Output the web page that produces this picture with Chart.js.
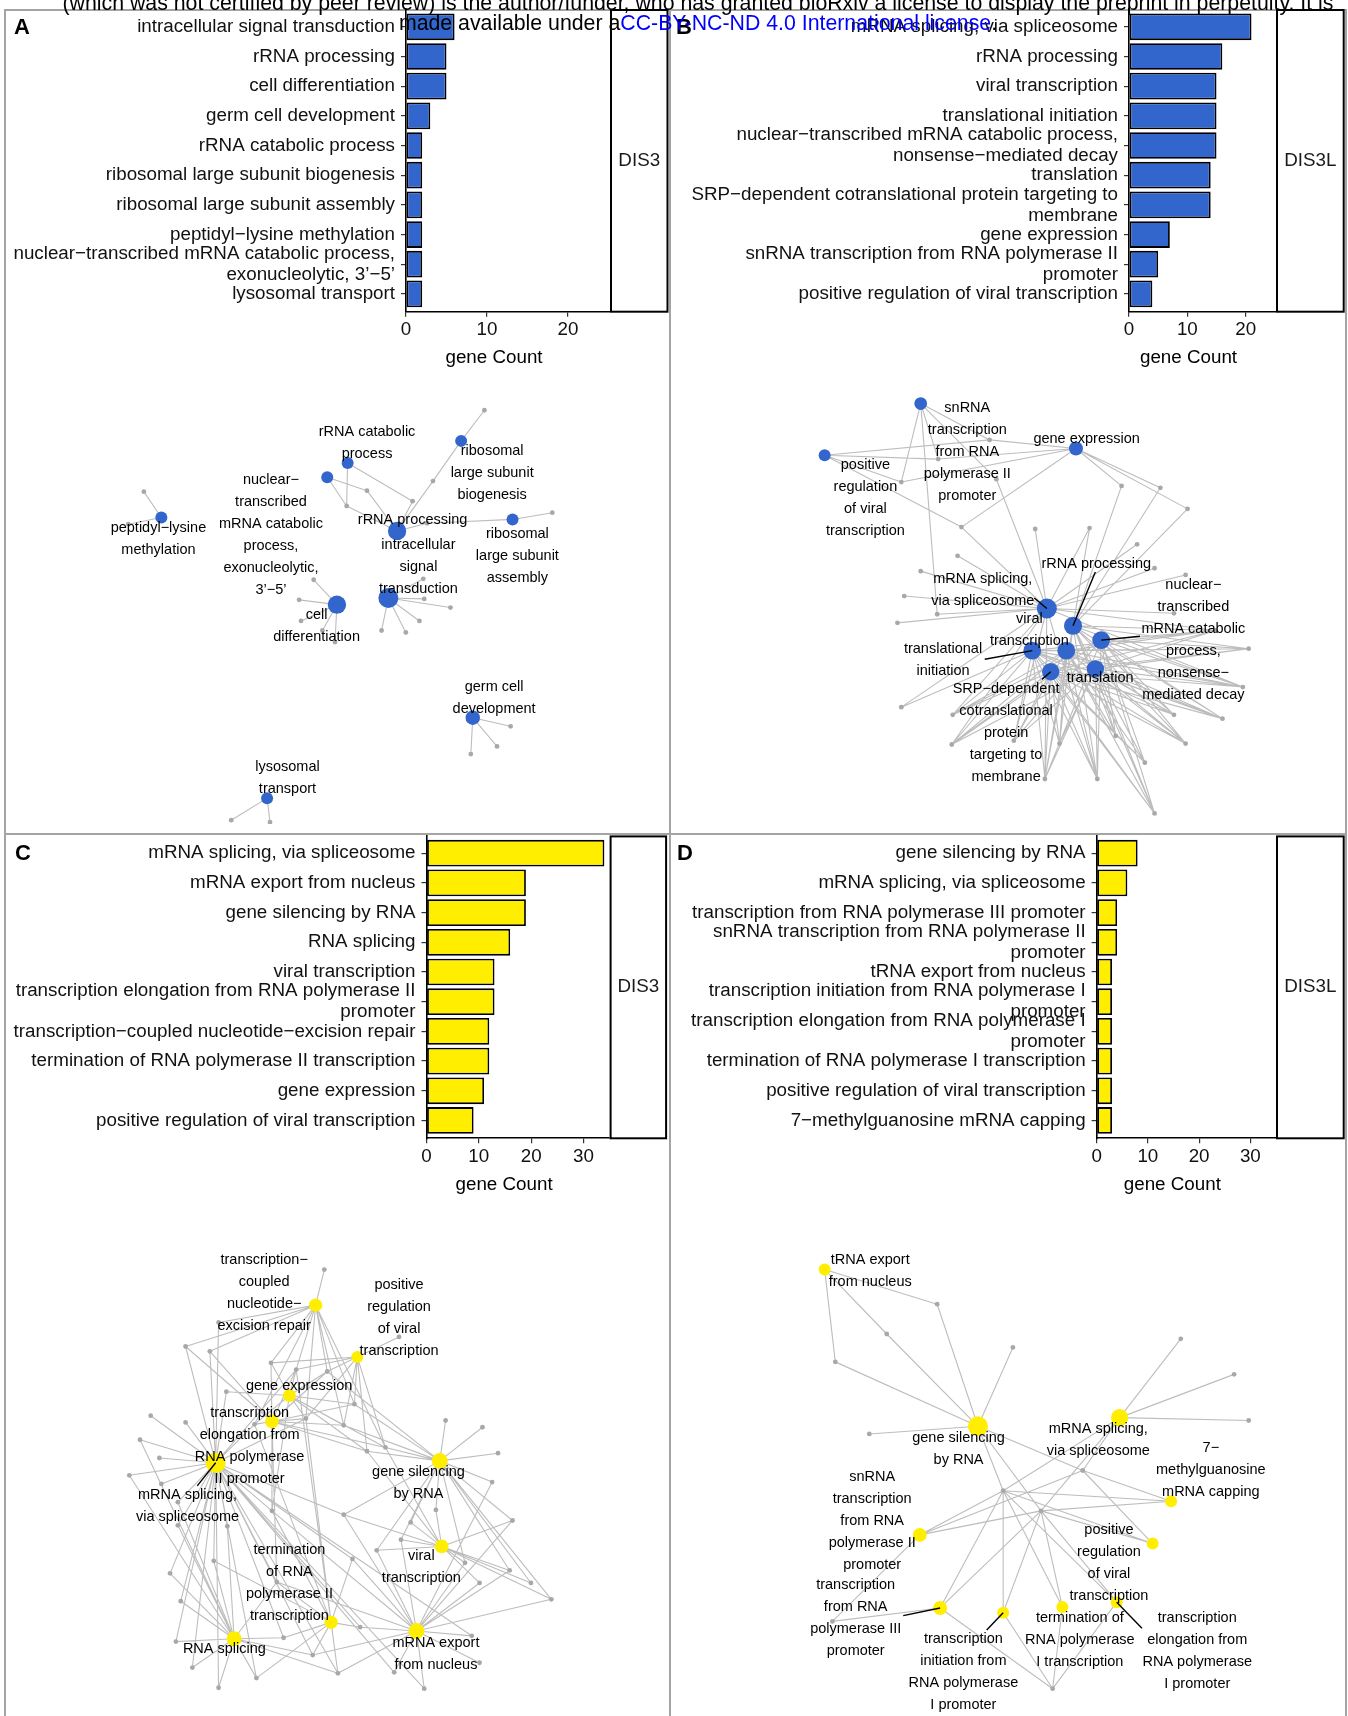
<!DOCTYPE html>
<html>
<head>
<meta charset="utf-8">
<script src="https://cdn.jsdelivr.net/npm/chart.js@4.4.1/dist/chart.umd.min.js"></script>
<style>
  html, body { margin: 0; padding: 0; background: #fff; }
  body { width: 1348px; height: 1716px; position: relative; overflow: hidden;
         font-family: "Liberation Sans", Arial, Helvetica, sans-serif; }
  canvas { position: absolute; }
  .frame { position: absolute; box-sizing: border-box; border: 2px solid #A4A4A4; }
  .tag { position: absolute; font-weight: bold; font-size: 22px; line-height: 22px; color: #000; z-index: 5; }
  .note { position: absolute; left: 48px; top: -7px; width: 1300px; text-align: center;
          font-size: 21.3px; line-height: 20px; color: #000; white-space: nowrap; z-index: 10; }
  .note span { color: #0000FF; }
</style>
</head>
<body>
<div class="frame" style="left:4px;top:9px;width:667px;height:826px;"></div>
<div class="frame" style="left:669px;top:9px;width:678px;height:826px;"></div>
<div class="frame" style="left:4px;top:833px;width:667px;height:900px;"></div>
<div class="frame" style="left:669px;top:833px;width:678px;height:900px;"></div>

<div class="tag" style="left:14px;top:16px;">A</div>
<div class="tag" style="left:676px;top:16px;">B</div>
<div class="tag" style="left:15px;top:842px;">C</div>
<div class="tag" style="left:677px;top:842px;">D</div>

<div class="note">(which was not certified by peer review) is the author/funder, who has granted bioRxiv a license to display the preprint in perpetuity. It is<br>made available under a<span>CC-BY-NC-ND 4.0 International license</span>.</div>

<script>
// ---------- GO enrichment: bar chart data ----------
const catsA = ["intracellular signal transduction", "rRNA processing", "cell differentiation",
  "germ cell development", "rRNA catabolic process", "ribosomal large subunit biogenesis",
  "ribosomal large subunit assembly", "peptidyl\u2212lysine methylation",
  ["nuclear\u2212transcribed mRNA catabolic process,", "exonucleolytic, 3\u2019\u22125\u2019"],
  "lysosomal transport"];
const countsA = [6, 5, 5, 3, 2, 2, 2, 2, 2, 2];

const catsB = ["mRNA splicing, via spliceosome", "rRNA processing", "viral transcription",
  "translational initiation",
  ["nuclear\u2212transcribed mRNA catabolic process,", "nonsense\u2212mediated decay"],
  "translation",
  ["SRP\u2212dependent cotranslational protein targeting to", "membrane"],
  "gene expression",
  ["snRNA transcription from RNA polymerase II", "promoter"],
  "positive regulation of viral transcription"];
const countsB = [21, 16, 15, 15, 15, 14, 14, 7, 5, 4];

const catsC = ["mRNA splicing, via spliceosome", "mRNA export from nucleus", "gene silencing by RNA",
  "RNA splicing", "viral transcription",
  ["transcription elongation from RNA polymerase II", "promoter"],
  "transcription\u2212coupled nucleotide\u2212excision repair",
  "termination of RNA polymerase II transcription", "gene expression",
  "positive regulation of viral transcription"];
const countsC = [34, 19, 19, 16, 13, 13, 12, 12, 11, 9];

const catsD = ["gene silencing by RNA", "mRNA splicing, via spliceosome",
  "transcription from RNA polymerase III promoter",
  ["snRNA transcription from RNA polymerase II", "promoter"],
  "tRNA export from nucleus",
  ["transcription initiation from RNA polymerase I", "promoter"],
  ["transcription elongation from RNA polymerase I", "promoter"],
  "termination of RNA polymerase I transcription",
  "positive regulation of viral transcription", "7\u2212methylguanosine mRNA capping"];
const countsD = [8, 6, 4, 4, 3, 3, 3, 3, 3, 3];

const xMaxTop = 25.2;
const xMaxBottom = 35;
const xTicksTop = [0, 10, 20];
const xTicksBottom = [0, 10, 20, 30];

// ---------- gene-concept network layouts (term order follows the bar charts) ----------
// Panel A
const termPosA = [[390,238],[399,168],[337,245],[477,363],[348,97],[465,74],[518,156],[156,154],[327,112],[265,447]];
const labelsA = [
  [["intracellular","signal","transduction"], 421, 183],
  [["rRNA processing"], 415, 157],
  [["cell","differentiation"], 316, 256],
  [["germ cell","development"], 499, 331],
  [["rRNA catabolic","process"], 368, 65],
  [["ribosomal","large subunit","biogenesis"], 497, 85],
  [["ribosomal","large subunit","assembly"], 523, 171],
  [["peptidyl\u2212lysine","methylation"], 153, 165],
  [["nuclear\u2212","transcribed","mRNA catabolic","process,","exonucleolytic,","3\u2019\u22125\u2019"], 269, 115],
  [["lysosomal","transport"], 286, 415]
];
const genePosA = [[138,127],[122,161],[368,126],[347,142],[436,116],[415,137],[430,160],[489,42],[559,149],
  [426,218],[427,239],[454,248],[422,262],[408,274],[383,272],
  [313,219],[298,240],[300,262],[335,284],[322,272],
  [516,372],[502,393],[475,401],[228,470],[268,472]];
const linksA = [[9,10,11,12,13,14],[2,3,4,5,6],[15,16,17,18,19],[20,21,22],[3,5],[7,4],[8,6],[0,1],[2,3],[23,24]];
const leadersA = [];

// Panel B
const termPosB = [[376,249],[403,267],[396,293],[361,293],[432,282],[426,312],[380,315],[406,82],[246,35],[147,89]];
const labelsB = [
  [["mRNA splicing,","via spliceosome"], 310, 218],
  [["rRNA processing"], 427, 203],
  [["viral","transcription"], 358, 260],
  [["translational","initiation"], 269, 291],
  [["nuclear\u2212","transcribed","mRNA catabolic","process,","nonsense\u2212","mediated decay"], 527, 224],
  [["translation"], 431, 322],
  [["SRP\u2212dependent","cotranslational","protein","targeting to","membrane"], 334, 333],
  [["gene expression"], 417, 72],
  [["snRNA","transcription","from RNA","polymerase II","promoter"], 294, 40],
  [["positive","regulation","of viral","transcription"], 189, 99]
];
const genePosB = [[317,73],[264,93],[226,117],[324,114],[288,164],[453,121],[493,123],[521,145],
  [364,166],[420,165],[469,182],[284,194],[246,210],[229,236],[263,255],[222,264],
  [487,207],[519,214],[507,254],[550,272],[584,291],[578,331],[557,364],[507,360],
  [519,390],[477,410],[428,427],[374,427],[487,463],[278,391],[279,360],[226,352],
  [447,382],[389,390],[342,387]];
const linksB = [
  [3,4,8,9,10,11,12,13,14,15,16,17,18,19,29,30,31,34,26,21,27],
  [5,6,7,9,19,20,21,22,23,24,25,26,27,28,32,33],
  [19,20,21,22,23,24,25,26,27,28,29,30,32,33,34],
  [19,20,21,22,23,24,25,26,27,28,29,30,31,33,34],
  [19,20,21,22,23,24,25,26,27,28,29,30,32,33,34],
  [19,20,21,22,23,24,25,26,27,28,29,32,33,34],
  [19,20,21,22,23,24,25,26,27,28,29,30,33,34],
  [0,1,2,4,5,6,7],
  [0,1,2,3,14],
  [0,1,2,4]
];
const leadersB = [[0,363,238],[1,426,211],[4,472,278],[3,312,302],[6,371,323]];

// Panel C
const termPosC = [[212,263],[419,438],[443,261],[231,446],[445,350],[270,220],[315,99],[331,429],[288,193],[358,153]];
const labelsC = [
  [["mRNA splicing,","via spliceosome"], 183, 297],
  [["mRNA export","from nucleus"], 439, 450],
  [["gene silencing","by RNA"], 421, 273],
  [["RNA splicing"], 221, 457],
  [["viral","transcription"], 424, 360],
  [["transcription","elongation from","RNA polymerase","II promoter"], 247, 211],
  [["transcription\u2212","coupled","nucleotide\u2212","excision repair"], 262, 52],
  [["termination","of RNA","polymerase II","transcription"], 288, 354],
  [["gene expression"], 298, 183],
  [["positive","regulation","of viral","transcription"], 401, 78]
];
const genePosC = [[324,62],[215,117],[181,142],[206,147],[401,132],[269,159],[295,166],[327,168],
  [223,189],[355,202],[344,224],[305,217],[252,223],[368,251],[387,247],[145,214],[181,221],
  [134,239],[154,258],[123,276],[156,285],[173,304],[270,313],[224,329],[173,328],[210,365],
  [165,378],[176,407],[275,387],[282,445],[312,463],[338,482],[361,434],[353,363],[171,449],
  [188,476],[215,497],[254,487],[449,219],[487,226],[503,253],[497,283],[344,317],[439,312],
  [413,325],[518,323],[403,343],[378,354],[469,367],[484,388],[515,375],[537,388],[558,405],
  [476,443],[484,471],[396,481],[427,498]];
const linksC = [
  [1,2,3,8,12,15,16,17,18,19,20,21,22,23,24,25,26,27,28,29,30,31,32,33,35,36,37,42,53,55,56,6,11,34],
  [22,30,31,32,33,42,47,48,49,50,52,53,54,55,56,41,45,46,28],
  [9,10,13,14,38,39,40,41,42,43,44,45,46,47,48,50,51,52,7],
  [17,19,21,24,25,26,27,29,30,31,34,35,36,37,23,28],
  [42,43,44,45,46,47,48,49,50,51,52,13,14],
  [5,6,7,9,10,11,12,13,14,2,3,22,28],
  [0,1,2,3,5,6,7,9,10,11,12,14],
  [22,25,28,29,30,31,32,33,37,12,6,11],
  [5,6,7,8,9,10,11,12,13,14,22],
  [4,5,6,7,9,10,11,13,14]
];
const leadersC = [[0,193,287]];

// Panel D
const termPosD = [[305,225],[451,216],[266,414],[245,338],[147,62],[331,419],[448,408],[392,413],[485,347],[504,303]];
const labelsD = [
  [["gene silencing","by RNA"], 285, 237],
  [["mRNA splicing,","via spliceosome"], 429, 228],
  [["transcription","from RNA","polymerase III","promoter"], 179, 390],
  [["snRNA","transcription","from RNA","polymerase II","promoter"], 196, 278],
  [["tRNA export","from nucleus"], 194, 52],
  [["transcription","initiation from","RNA polymerase","I promoter"], 290, 446],
  [["transcription","elongation from","RNA polymerase","I promoter"], 531, 424],
  [["termination of","RNA polymerase","I transcription"], 410, 424],
  [["positive","regulation","of viral","transcription"], 440, 333],
  [["7\u2212","methylguanosine","mRNA capping"], 545, 248]
];
const genePosD = [[263,98],[211,129],[158,158],[341,143],[193,233],[514,134],[569,171],[584,219],
  [331,292],[370,313],[413,271],[382,498],[155,428]];
const linksD = [[0,1,2,3,4,8,9,10],[5,6,7,8,9,10],[12,8,9,11],[8,9,10,12],[0,1,2],[8,9,11],[8,9,11],[8,9,11],[8,9,10],[8,9,10]];
const leadersD = [[2,228,422],[5,314,437],[6,474,435]];

// ---------- drawing ----------
const FONT = '"Liberation Sans", Arial, Helvetica, sans-serif';
const BLUE = '#3366CC';
const YELLOW = '#FFEE00';

function makeCanvas(left, top, w, h) {
  const c = document.createElement('canvas');
  c.width = w; c.height = h;
  c.style.left = left + 'px'; c.style.top = top + 'px';
  c.style.width = w + 'px'; c.style.height = h + 'px';
  document.body.appendChild(c);
  return c;
}

// facet strip on the right of the panel plus the x-axis title
const facetStrip = {
  id: 'facetStrip',
  afterDraw(chart, args, o) {
    const { ctx, chartArea: a } = chart;
    ctx.save();
    ctx.fillStyle = '#fff';
    ctx.fillRect(a.right, a.top, o.width, a.bottom - a.top);
    ctx.strokeStyle = '#000';
    ctx.lineWidth = 2;
    ctx.strokeRect(a.right + 1, a.top + 1, o.width - 2, a.bottom - a.top - 1);
    ctx.fillStyle = '#1a1a1a';
    ctx.font = '18.8px ' + FONT;
    ctx.textAlign = 'center';
    ctx.textBaseline = 'middle';
    ctx.fillText(o.text, a.right + o.width / 2, (a.top + a.bottom) / 2);
    ctx.fillStyle = '#000';
    ctx.fillText('gene Count', (a.left + a.right) / 2 - 14, a.bottom + 46.5);
    ctx.restore();
  }
};

function drawBars(canvas, cats, counts, color, xMax, xTicks, stripText, g) {
  const tickFont = { family: FONT, size: 18.8, lineHeight: 1.12 };
  return new Chart(canvas, {
    type: 'bar',
    data: {
      datasets: [{
        data: counts.map((v, i) => ({ x: v, y: i })),
        backgroundColor: color,
        borderColor: '#000',
        borderWidth: 1.8,
        borderSkipped: false,
        barPercentage: 0.9,
        categoryPercentage: 1
      }]
    },
    options: {
      indexAxis: 'y',
      responsive: false,
      animation: false,
      devicePixelRatio: 1,
      events: [],
      layout: { padding: { top: g.top, right: g.right, left: 0, bottom: 0 } },
      plugins: {
        legend: { display: false },
        tooltip: { enabled: false },
        facetStrip: { text: stripText, width: g.strip }
      },
      scales: {
        y: {
          type: 'linear', reverse: true, offset: false, min: -0.6, max: cats.length - 0.4,
          afterBuildTicks: ax => { ax.ticks = cats.map((c, i) => ({ value: i })); },
          afterFit: ax => { ax.width = g.yw; ax.paddingTop = 0; ax.paddingBottom = 0; },
          ticks: { callback: v => cats[v], color: '#111', padding: 6, autoSkip: false, font: tickFont },
          grid: { offset: false, drawOnChartArea: false, drawTicks: true, tickLength: 5, color: '#333', lineWidth: 1.2 },
          border: { display: true, color: '#000', width: 1.6 }
        },
        x: {
          type: 'linear', offset: false, min: 0, max: xMax,
          afterBuildTicks: ax => { ax.ticks = xTicks.map(v => ({ value: v })); },
          afterFit: ax => { ax.height = g.xh; ax.paddingLeft = 0; ax.paddingRight = 0; },
          ticks: { color: '#111', padding: 3, maxRotation: 0, autoSkip: false, font: tickFont },
          grid: { offset: false, drawOnChartArea: false, drawTicks: true, tickLength: 5, color: '#333', lineWidth: 1.2 },
          border: { display: true, color: '#000', width: 1.6 }
        }
      }
    },
    plugins: [facetStrip]
  });
}

function drawNetwork(canvas, counts, color, termPos, labels, genePos, links, leaders) {
  const w = canvas.width, h = canvas.height;
  const edges = [];
  links.forEach((genes, t) => genes.forEach(gi => {
    edges.push({ x: termPos[t][0], y: termPos[t][1] },
               { x: genePos[gi][0], y: genePos[gi][1] },
               { x: null, y: null });
  }));
  const lo = Math.sqrt(Math.min(...counts)), hi = Math.sqrt(Math.max(...counts));
  const radius = c => 6 + 4 * (Math.sqrt(c) - lo) / (hi - lo);

  const termLabels = {
    id: 'termLabels',
    afterDatasetsDraw(chart) {
      const { ctx, scales: { x, y } } = chart;
      ctx.save();
      ctx.strokeStyle = '#000';
      ctx.lineWidth = 1.4;
      leaders.forEach(([t, lx, ly]) => {
        ctx.beginPath();
        ctx.moveTo(x.getPixelForValue(lx), y.getPixelForValue(ly));
        ctx.lineTo(x.getPixelForValue(termPos[t][0]), y.getPixelForValue(termPos[t][1]));
        ctx.stroke();
      });
      ctx.fillStyle = '#000';
      ctx.font = '14.5px ' + FONT;
      ctx.textAlign = 'center';
      ctx.textBaseline = 'middle';
      labels.forEach(([lines, lx, ly]) => {
        const px = x.getPixelForValue(lx), py = y.getPixelForValue(ly);
        lines.forEach((s, k) => ctx.fillText(s, px, py + k * 22));
      });
      ctx.restore();
    }
  };

  return new Chart(canvas, {
    type: 'scatter',
    data: {
      datasets: [
        { data: termPos.map(p => ({ x: p[0], y: p[1] })), pointRadius: counts.map(radius),
          backgroundColor: color, borderWidth: 0, order: 0 },
        { data: genePos.map(p => ({ x: p[0], y: p[1] })), pointRadius: 2.4,
          backgroundColor: '#A8A8A8', borderWidth: 0, order: 1 },
        { data: edges, showLine: true, pointRadius: 0, borderColor: '#BDBDBD', borderWidth: 1.1,
          spanGaps: false, order: 2 }
      ]
    },
    options: {
      responsive: false,
      animation: false,
      devicePixelRatio: 1,
      events: [],
      layout: { padding: 0 },
      plugins: { legend: { display: false }, tooltip: { enabled: false } },
      scales: {
        x: { type: 'linear', min: 0, max: w, display: false },
        y: { type: 'linear', min: 0, max: h, reverse: true, display: false }
      }
    },
    plugins: [termLabels]
  });
}

// networks first so the bar panels sit above them
drawNetwork(makeCanvas(0, 360, 670, 474), countsA, BLUE, termPosA, labelsA, genePosA, linksA, leadersA);
drawNetwork(makeCanvas(672, 360, 674, 474), countsB, BLUE, termPosB, labelsB, genePosB, linksB, leadersB);
drawNetwork(makeCanvas(0, 1200, 670, 516), countsC, YELLOW, termPosC, labelsC, genePosC, linksC, leadersC);
drawNetwork(makeCanvas(672, 1200, 674, 516), countsD, YELLOW, termPosD, labelsD, genePosD, linksD, leadersD);

drawBars(makeCanvas(0, 0, 672, 380), catsA, countsA, BLUE, xMaxTop, xTicksTop, 'DIS3',
  { yw: 406, top: 9, right: 62, xh: 68.3, strip: 58.5 });
drawBars(makeCanvas(672, 0, 676, 380), catsB, countsB, BLUE, xMaxTop, xTicksTop, 'DIS3L',
  { yw: 457, top: 9, right: 72, xh: 68.3, strip: 68.7 });
drawBars(makeCanvas(0, 826, 672, 380), catsC, countsC, YELLOW, xMaxBottom, xTicksBottom, 'DIS3',
  { yw: 426.5, top: 9.4, right: 62.4, xh: 67.7, strip: 57.5 });
drawBars(makeCanvas(672, 826, 676, 380), catsD, countsD, YELLOW, xMaxBottom, xTicksBottom, 'DIS3L',
  { yw: 424.6, top: 9.4, right: 72, xh: 67.7, strip: 68.7 });
</script>
</body>
</html>
